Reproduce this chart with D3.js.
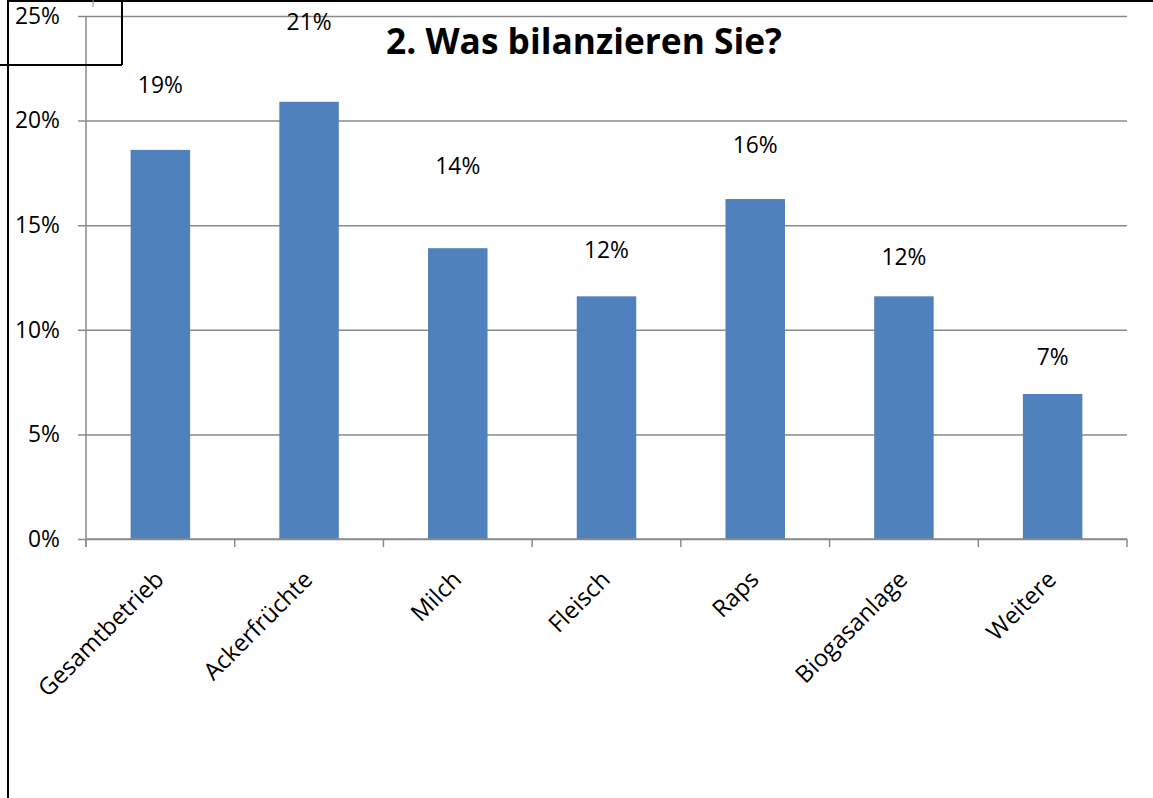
<!DOCTYPE html>
<html>
<head>
<meta charset="utf-8">
<script src="https://cdn.jsdelivr.net/npm/d3@7"></script>
<style>
  body { margin: 0; background: #fff; }
  text { font-family: 'Open Sans', sans-serif; fill: #000; }
</style>
</head>
<body>
<div id="chart"></div>
<script>
// data
const categories = ['Gesamtbetrieb', 'Ackerfrüchte', 'Milch', 'Fleisch', 'Raps', 'Biogasanlage', 'Weitere']
const shares = [18.6, 20.9, 13.9, 11.6, 16.25, 11.6, 6.93]
const valueLabels = ['19%', '21%', '14%', '12%', '16%', '12%', '7%']
const yTicks = [0, 5, 10, 15, 20, 25]
// labels sit at hand-placed heights above the bars (px)
const labelLift = [65, 80, 82, 46, 54, 39, 37]

const W = 1153, H = 798
const svg = d3.select('#chart').append('svg').attr('width', W).attr('height', H)

// pick a font size so a sample string gets a given width
function fitSize(str, width, weight) {
  const t = svg.append('text').attr('font-size', 100).attr('font-weight', weight || 'normal').text(str)
  const len = t.node().getComputedTextLength()
  t.remove()
  return 100 * width / len
}
const labelSize = fitSize('19%', 45)
const catSize = fitSize('Gesamtbetrieb', 166)
const titleSize = fitSize('2. Was bilanzieren Sie?', 396, 'bold')

const plotL = 86, plotR = 1127, plotT = 16, plotB = 539

const x = d3.scaleBand().domain(categories).range([plotL, plotR]).paddingInner(0.6).paddingOuter(0.3)
const y = d3.scaleLinear().domain([0, 25]).range([plotB, plotT])

// gridlines + y labels
const yAxis = svg.append('g').attr('transform', `translate(${plotL},0)`)
  .call(d3.axisLeft(y).tickValues(yTicks).tickFormat(d => d + '%').tickSize(-(plotR - plotL)).tickPadding(26))
yAxis.select('.domain').remove()
yAxis.selectAll('.tick line').attr('x1', -8).attr('stroke', '#8a8a8a').attr('stroke-width', 1.5)
yAxis.selectAll('.tick text').attr('font-size', labelSize).attr('font-family', "'Open Sans', sans-serif").attr('fill', '#000')

// y axis line
svg.append('line').attr('x1', plotL).attr('x2', plotL).attr('y1', plotT).attr('y2', plotB + 8)
  .attr('stroke', '#8a8a8a').attr('stroke-width', 1.5)

// bars
svg.selectAll('rect.bar').data(categories).enter().append('rect')
  .attr('class', 'bar')
  .attr('x', d => x(d))
  .attr('width', x.bandwidth())
  .attr('y', (d, i) => y(shares[i]))
  .attr('height', (d, i) => y(0) - y(shares[i]))
  .attr('fill', '#4f81bd')

// x axis baseline and boundary ticks
svg.append('line').attr('x1', plotL).attr('x2', plotR).attr('y1', plotB).attr('y2', plotB)
  .attr('stroke', '#8a8a8a').attr('stroke-width', 1.5)
const edges = d3.range(categories.length + 1).map(i => plotL + i * x.step())
svg.selectAll('line.xtick').data(edges).enter().append('line')
  .attr('class', 'xtick')
  .attr('x1', d => d).attr('x2', d => d).attr('y1', plotB).attr('y2', plotB + 8)
  .attr('stroke', '#8a8a8a').attr('stroke-width', 1.5)

// rotated category labels
svg.selectAll('text.cat').data(categories).enter().append('text')
  .attr('class', 'cat')
  .attr('text-anchor', 'end')
  .attr('font-size', catSize)
  .attr('transform', d => `translate(${x(d) + x.bandwidth() / 2 + 5},${plotB + 42}) rotate(-45)`)
  .text(d => d)

// value labels
svg.selectAll('text.val').data(categories).enter().append('text')
  .attr('class', 'val')
  .attr('text-anchor', 'middle')
  .attr('font-size', labelSize)
  .attr('x', d => x(d) + x.bandwidth() / 2)
  .attr('y', (d, i) => y(shares[i]) - labelLift[i] + 8)
  .text((d, i) => valueLabels[i])

// title
svg.append('text').attr('x', 584).attr('y', 54).attr('text-anchor', 'middle')
  .attr('font-size', titleSize).attr('font-weight', 'bold')
  .text('2. Was bilanzieren Sie?')

// black frame fragments
const frame = svg.append('g').attr('stroke', '#000').attr('stroke-width', 2).attr('fill', 'none')
frame.append('line').attr('x1', 8).attr('x2', W).attr('y1', 1).attr('y2', 1)
frame.append('line').attr('x1', 8).attr('x2', 8).attr('y1', 0).attr('y2', H)
frame.append('line').attr('x1', 0).attr('x2', 122).attr('y1', 65).attr('y2', 65)
frame.append('line').attr('x1', 122).attr('x2', 122).attr('y1', 0).attr('y2', 65)
svg.append('line').attr('x1', 93).attr('x2', 93).attr('y1', 0).attr('y2', 7)
  .attr('stroke', '#8a8a8a').attr('stroke-width', 1)
</script>
</body>
</html>
